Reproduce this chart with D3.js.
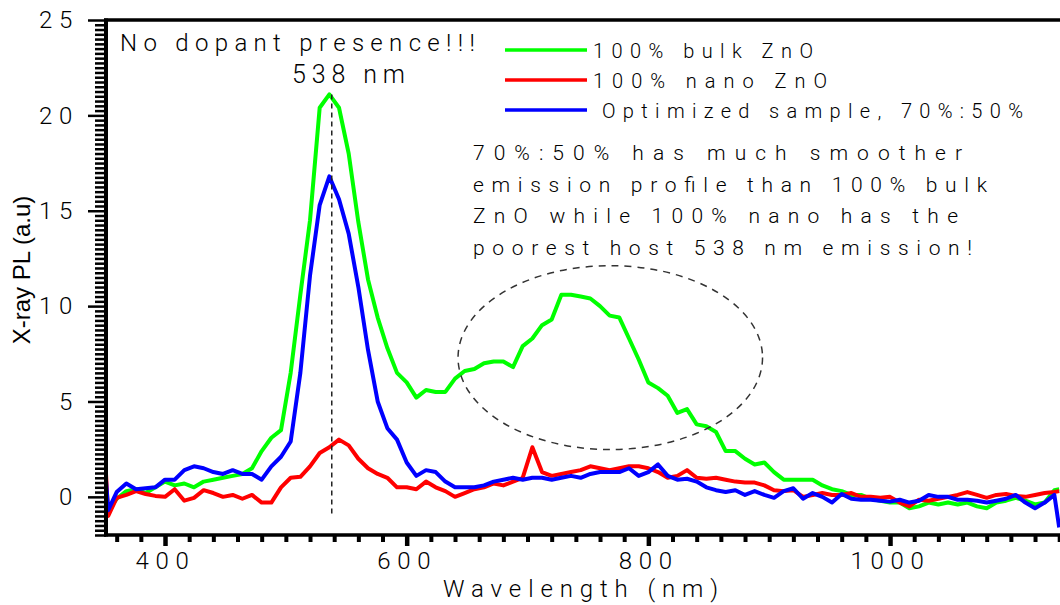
<!DOCTYPE html>
<html>
<head>
<meta charset="utf-8">
<script src="https://cdn.jsdelivr.net/npm/d3@7"></script>
<style>
  html, body { margin: 0; padding: 0; background: #fff; }
  svg { display: block; }
  text { font-family: Roboto, "Liberation Sans", Arial, sans-serif; font-weight: 300; fill: #000; }
  text.ytitle { font-family: "Liberation Sans", Arial, sans-serif; font-weight: 400; }
</style>
</head>
<body>
<svg id="chart" width="1060" height="605"></svg>
<script>
// Emission wavelength grid (nm)
const wavelength = [
  351, 353, 360, 368, 376, 384, 392, 400, 408, 416,
  424, 432, 440, 448, 456, 464, 472, 480, 488, 496,
  504, 512, 520, 528, 536, 544, 552, 560, 568, 576,
  584, 592, 600, 608, 616, 624, 632, 640, 648, 656,
  664, 672, 680, 688, 696, 704, 712, 720, 728, 736,
  744, 752, 760, 768, 776, 784, 792, 800, 808, 816,
  824, 832, 840, 848, 856, 864, 872, 880, 888, 896,
  904, 912, 920, 928, 936, 944, 952, 960, 968, 976,
  984, 992, 1000, 1008, 1016, 1024, 1032, 1040, 1048, 1056,
  1064, 1072, 1080, 1088, 1096, 1104, 1112, 1120, 1128, 1136,
  1140
];

// X-ray PL intensity (a.u) for each sample
const bulkZnO = [
  -0.2, -0.7, -0.1, 0.3, 0.4, 0.2, 0.5, 0.8, 0.6, 0.7,
  0.5, 0.8, 0.9, 1.0, 1.1, 1.2, 1.5, 2.4, 3.1, 3.5,
  6.5, 10.6, 14.5, 20.4, 21.1, 20.4, 18.0, 14.4, 11.4, 9.4,
  7.8, 6.5, 6.0, 5.2, 5.6, 5.5, 5.5, 6.2, 6.6, 6.7,
  7.0, 7.1, 7.1, 6.8, 7.9, 8.3, 9.0, 9.3, 10.6, 10.6,
  10.5, 10.4, 10.0, 9.5, 9.4, 8.3, 7.2, 6.0, 5.7, 5.3,
  4.4, 4.6, 3.8, 3.7, 3.4, 2.4, 2.4, 2.0, 1.7, 1.8,
  1.3, 0.9, 0.9, 0.9, 0.9, 0.6, 0.4, 0.3, 0.1, 0.1,
  -0.1, -0.2, -0.3, -0.3, -0.6, -0.5, -0.3, -0.4, -0.3, -0.4,
  -0.3, -0.5, -0.6, -0.3, -0.2, -0.05, -0.2, -0.4, -0.3, 0.35,
  0.4
];
const nanoZnO = [
  1.4, -1.0, -0.05, 0.1, 0.3, 0.15, 0.05, 0.0, 0.4, -0.2,
  -0.05, 0.35, 0.2, 0.0, 0.1, -0.1, 0.1, -0.3, -0.3, 0.5,
  1.0, 1.05, 1.6, 2.3, 2.6, 3.0, 2.7, 2.0, 1.5, 1.2,
  1.0, 0.5, 0.5, 0.4, 0.8, 0.5, 0.3, 0.0, 0.2, 0.4,
  0.5, 0.7, 0.6, 0.8, 1.0, 2.6, 1.3, 1.1, 1.2, 1.3,
  1.4, 1.6, 1.5, 1.4, 1.5, 1.6, 1.6, 1.5, 1.3, 1.0,
  1.1, 1.4, 1.0, 0.95, 1.0, 0.9, 0.8, 0.75, 0.75, 0.6,
  0.35, 0.3, 0.35, 0.0, 0.1, 0.2, 0.1, 0.1, 0.2, 0.0,
  0.0, -0.05, 0.0, -0.3, -0.5, -0.15, -0.2, -0.1, 0.0, 0.1,
  0.25, 0.1, -0.05, 0.1, 0.15, 0.05, 0.0, 0.1, 0.2, 0.25,
  0.3
];
const optimized = [
  1.0, -0.7, 0.25, 0.7, 0.4, 0.45, 0.5, 0.9, 0.9, 1.4,
  1.6, 1.5, 1.3, 1.2, 1.4, 1.2, 1.2, 0.9, 1.6, 2.1,
  2.9, 6.5, 11.6, 15.3, 16.8, 15.6, 13.8, 11.0, 7.7, 5.0,
  3.6, 3.0, 1.8, 1.1, 1.4, 1.3, 0.8, 0.5, 0.5, 0.5,
  0.6, 0.8, 0.9, 1.0, 0.9, 1.0, 1.0, 0.9, 1.0, 1.1,
  1.0, 1.2, 1.3, 1.3, 1.3, 1.5, 1.1, 1.3, 1.7, 1.1,
  0.9, 0.95, 0.8, 0.5, 0.35, 0.25, 0.35, 0.1, 0.3, 0.1,
  -0.05, 0.3, 0.45, -0.1, 0.2, 0.0, -0.3, 0.15, -0.1, -0.15,
  -0.15, -0.2, -0.25, -0.15, -0.3, -0.2, 0.1, 0.0, 0.0, -0.15,
  -0.15, -0.2, -0.3, -0.2, -0.1, 0.1, -0.3, -0.6, -0.3, 0.1,
  -1.6
];

const seriesNames = ["100% bulk ZnO", "100% nano ZnO", "Optimized sample, 70%:50%"];
const seriesColors = ["#00ff00", "#ff0000", "#0000ff"];

const xTickLabels = [400, 600, 800, 1000];
const yTickLabels = [0, 5, 10, 15, 20, 25];

const peakWavelength = 538;
const peakTop = 21.1;
const peakBottom = -0.95;

const noteLines = [
  "70%:50% has much smoother",
  "emission profile than 100% bulk",
  "ZnO while 100% nano has the",
  "poorest host 538 nm emission!"
];

// Dashed ellipse around the broad bulk ZnO band (nm, a.u)
const bandCenter = [768.5, 7.3];
const bandRadius = [126, 4.82];

// ---- scales ----
const x = d3.scaleLinear().domain([351, 1140]).range([105.8, 1059.2]);
const y = d3.scaleLinear().domain([-2, 25]).range([535, 20]);

const svg = d3.select("#chart");

svg.append("defs").append("clipPath").attr("id", "plotClip")
  .append("rect").attr("x", 106).attr("y", 20).attr("width", 954).attr("height", 515);

// ---- data lines ----
const seriesValues = [bulkZnO, nanoZnO, optimized];
const line = d3.line()
  .x((d, i) => x(wavelength[i]))
  .y(d => y(d));

const lines = svg.append("g").attr("clip-path", "url(#plotClip)");
seriesValues.forEach((vals, k) => {
  lines.append("path")
    .attr("d", line(vals))
    .attr("fill", "none")
    .attr("stroke", seriesColors[k])
    .attr("stroke-width", 4)
    .attr("stroke-linejoin", "round");
});

// ---- annotations: peak marker and band ellipse ----
svg.append("line")
  .attr("x1", x(peakWavelength)).attr("x2", x(peakWavelength))
  .attr("y1", y(peakTop)).attr("y2", y(peakBottom))
  .attr("stroke", "#222").attr("stroke-width", 1.5)
  .attr("stroke-dasharray", "5,4");

svg.append("ellipse")
  .attr("cx", x(bandCenter[0])).attr("cy", y(bandCenter[1]))
  .attr("rx", x(bandCenter[0] + bandRadius[0]) - x(bandCenter[0]))
  .attr("ry", y(bandCenter[1] - bandRadius[1]) - y(bandCenter[1]))
  .attr("fill", "none")
  .attr("stroke", "#333").attr("stroke-width", 1.5)
  .attr("stroke-dasharray", "7,6");

// ---- axes ----
const xMinor = d3.range(360, 1141, 20).filter(v => v % 200 !== 0);
const yMinor = d3.range(-2, 25.001, 0.25).filter(v => Math.abs(v % 5) > 1e-6);

const xAxisG = svg.append("g").attr("transform", "translate(0,535)");
xAxisG.append("g")
  .call(d3.axisBottom(x).tickValues(xMinor).tickSize(7).tickFormat(""))
  .call(g => g.select(".domain").remove())
  .call(g => g.selectAll(".tick line").attr("stroke", "#000").attr("stroke-width", 4));
xAxisG.append("g")
  .call(d3.axisBottom(x).tickValues(xTickLabels).tickSize(11).tickPadding(6).tickFormat(d3.format("d")))
  .call(g => g.select(".domain").remove())
  .call(g => g.selectAll(".tick line").attr("stroke", "#000").attr("stroke-width", 4.5))
  .call(g => g.selectAll(".tick text")
    .attr("font-size", 24).attr("fill", "#000")
    .attr("font-family", null)
    .style("letter-spacing", "6.7px"));

const yAxisG = svg.append("g").attr("transform", "translate(106,0)");
yAxisG.append("g")
  .call(d3.axisLeft(y).tickValues(yMinor).tickSize(11).tickFormat(""))
  .call(g => g.select(".domain").remove())
  .call(g => g.selectAll(".tick line").attr("stroke", "#000").attr("stroke-width", 2.5));
yAxisG.append("g")
  .call(d3.axisLeft(y).tickValues(yTickLabels).tickSize(18).tickPadding(9).tickFormat(d3.format("d")))
  .call(g => g.select(".domain").remove())
  .call(g => g.selectAll(".tick line").attr("stroke", "#000").attr("stroke-width", 2.5))
  .call(g => g.selectAll(".tick text")
    .attr("font-size", 24).attr("fill", "#000")
    .attr("font-family", null)
    .style("letter-spacing", "6.7px"));

// frame lines: left axis, bottom axis, top border
svg.append("line").attr("x1", 106).attr("x2", 106).attr("y1", 18.5).attr("y2", 536.5)
  .attr("stroke", "#000").attr("stroke-width", 4);
svg.append("line").attr("x1", 104).attr("x2", 1060).attr("y1", 535).attr("y2", 535)
  .attr("stroke", "#000").attr("stroke-width", 3.5);
svg.append("line").attr("x1", 104).attr("x2", 1060).attr("y1", 20).attr("y2", 20)
  .attr("stroke", "#000").attr("stroke-width", 3.5);

// ---- axis titles ----
svg.append("text")
  .attr("x", 443).attr("y", 597)
  .attr("font-size", 24)
  .attr("textLength", 275).attr("lengthAdjust", "spacing")
  .text("Wavelength (nm)");

svg.append("text")
  .attr("class", "ytitle")
  .attr("transform", "translate(30,270) rotate(-90)")
  .attr("text-anchor", "middle")
  .attr("font-size", 24)
  .attr("fill", "#222")
  .text("X-ray PL (a.u)");

// ---- text annotations ----
svg.append("text")
  .attr("x", 120).attr("y", 51)
  .attr("font-size", 24)
  .attr("textLength", 355).attr("lengthAdjust", "spacing")
  .text("No dopant presence!!!");

svg.append("text")
  .attr("x", 292).attr("y", 83)
  .attr("font-size", 25)
  .attr("textLength", 113).attr("lengthAdjust", "spacing")
  .text(peakWavelength + " nm");

const noteWidths = [489, 514, 485, 499];
noteLines.forEach((t, i) => {
  svg.append("text")
    .attr("x", 473).attr("y", 160 + i * 31.7)
    .attr("font-size", 21)
    .attr("textLength", noteWidths[i]).attr("lengthAdjust", "spacing")
    .text(t);
});

// ---- legend ----
const legendWidths = [220, 234, 421];
const legendTextX = [593, 593, 602];
seriesNames.forEach((name, i) => {
  const yy = 50 + i * 30;
  svg.append("line")
    .attr("x1", 505).attr("x2", 587).attr("y1", yy).attr("y2", yy)
    .attr("stroke", seriesColors[i]).attr("stroke-width", 3.5);
  svg.append("text")
    .attr("x", legendTextX[i]).attr("y", yy + 8)
    .attr("font-size", 20)
    .attr("textLength", legendWidths[i]).attr("lengthAdjust", "spacing")
    .text(name);
});
</script>
</body>
</html>
